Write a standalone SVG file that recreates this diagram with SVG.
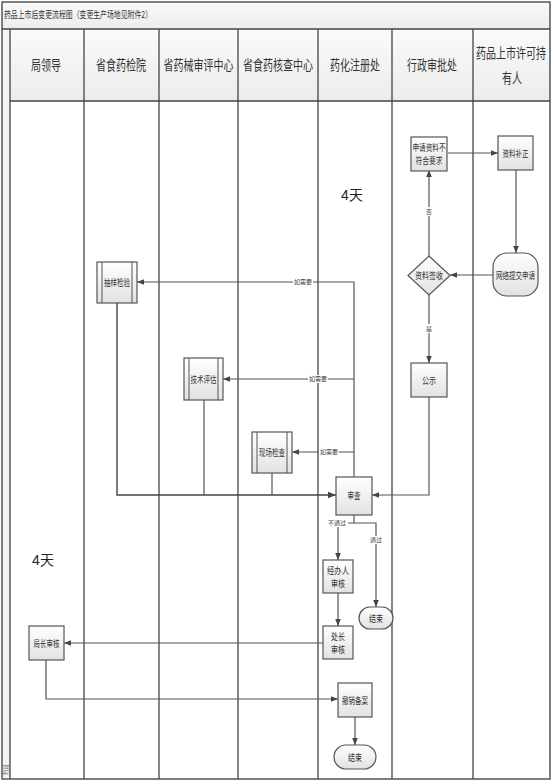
<svg xmlns="http://www.w3.org/2000/svg" width="554" height="784" viewBox="0 0 554 784">
<defs>
<linearGradient id="ng" x1="0" y1="0" x2="0" y2="1"><stop offset="0" stop-color="#ffffff"/><stop offset="1" stop-color="#e2e2e2"/></linearGradient>
<linearGradient id="hg" x1="0" y1="0" x2="0" y2="1"><stop offset="0" stop-color="#fafafa"/><stop offset="1" stop-color="#ececec"/></linearGradient>
<marker id="ah" viewBox="0 0 10 10" refX="10" refY="5" markerWidth="6" markerHeight="6" orient="auto"><path d="M0,1 L10,5 L0,9 z" fill="#444"/></marker>
</defs>
<style>
.frame{fill:none;stroke:#555;stroke-width:1.5}
.lane{stroke:#444;stroke-width:1.3}
.hd{font-family:"Noto Sans CJK SC",sans-serif;font-size:10px;fill:#333;text-anchor:middle}
.nd{fill:url(#ng);stroke:#555;stroke-width:1.2}
.nt{font-family:"Noto Sans CJK SC",sans-serif;font-size:9.5px;fill:#333;text-anchor:middle}
.lb{font-family:"Noto Sans CJK SC",sans-serif;font-size:6px;fill:#444;text-anchor:middle}
.cn{fill:none;stroke:#555;stroke-width:1.2}
.day{font-family:"Liberation Sans","Noto Sans CJK SC",sans-serif;font-size:14px;fill:#222;text-anchor:middle}
</style>
<rect x="0" y="0" width="554" height="784" fill="#ffffff"/>
<g id="pool">
<rect x="2" y="2" width="548" height="27" fill="url(#hg)"/>
<rect x="10" y="29" width="540" height="72" fill="url(#hg)"/>
<rect x="2" y="29" width="8" height="750" fill="#f4f4f4"/>
<rect x="2" y="2" width="548" height="777" class="frame"/>
<line x1="2" y1="29" x2="550" y2="29" class="lane"/>
<line x1="10" y1="101" x2="550" y2="101" class="lane"/>
<line x1="10" y1="29" x2="10" y2="779" class="lane"/>
<line x1="84" y1="29" x2="84" y2="779" class="lane"/>
<line x1="159" y1="29" x2="159" y2="779" class="lane"/>
<line x1="238" y1="29" x2="238" y2="779" class="lane"/>
<line x1="318" y1="29" x2="318" y2="779" class="lane"/>
<line x1="392" y1="29" x2="392" y2="779" class="lane"/>
<line x1="473" y1="29" x2="473" y2="779" class="lane"/>
<text x="4" y="18" font-family="Noto Sans CJK SC,sans-serif" font-size="9.5" fill="#333" textLength="148" lengthAdjust="spacingAndGlyphs">药品上市后变更流程图（变更生产场地见附件2）</text>
<text class="hd" transform="translate(46,70) scale(1,1.4)">局领导</text>
<text class="hd" transform="translate(121,70) scale(1,1.4)">省食药检院</text>
<text class="hd" transform="translate(198.5,70) scale(1,1.4)">省药械审评中心</text>
<text class="hd" transform="translate(278,70) scale(1,1.4)">省食药核查中心</text>
<text class="hd" transform="translate(355,70) scale(1,1.4)">药化注册处</text>
<text class="hd" transform="translate(432,70) scale(1,1.4)">行政审批处</text>
<text class="hd" transform="translate(511,58) scale(1,1.4)">药品上市许可持</text>
<text class="hd" transform="translate(512,83) scale(1,1.4)">有人</text>
<text transform="translate(8,775) rotate(-90)" font-family="Noto Sans CJK SC,sans-serif" font-size="5.5" fill="#555">阶段</text>
<text class="day" x="352" y="200">4天</text>
<text class="day" x="43" y="565">4天</text>
</g>
<g id="connectors">
<path class="cn" d="M448,153 L498,153" marker-end="url(#ah)"/>
<path class="cn" d="M516,170 L516,253" marker-end="url(#ah)"/>
<path class="cn" d="M493,275 L450,275" marker-end="url(#ah)"/>
<path class="cn" d="M429,256 L429,170" marker-end="url(#ah)"/>
<rect x="425" y="207" width="8" height="9" fill="#fff"/>
<text class="lb" x="429" y="214">否</text>
<path class="cn" d="M429,295 L429,363" marker-end="url(#ah)"/>
<rect x="425" y="324" width="8" height="9" fill="#fff"/>
<text class="lb" x="429" y="331">是</text>
<path class="cn" d="M429,397 L429,495 L372,495" marker-end="url(#ah)"/>
<path class="cn" d="M354,477 L354,282 L137,282" marker-end="url(#ah)"/>
<rect x="293" y="278" width="20" height="8" fill="#fff"/>
<text class="lb" x="303" y="284">如需要</text>
<path class="cn" d="M354,379 L223,379" marker-end="url(#ah)"/>
<rect x="308" y="375" width="20" height="8" fill="#fff"/>
<text class="lb" x="318" y="381">如需要</text>
<path class="cn" d="M354,452 L292,452" marker-end="url(#ah)"/>
<rect x="319" y="448" width="20" height="8" fill="#fff"/>
<text class="lb" x="329" y="454">如需要</text>
<path class="cn" d="M117,303 L117,495 L336,495" marker-end="url(#ah)" style="stroke:#444;stroke-width:1.4"/>
<path class="cn" d="M204,400 L204,495"/>
<path class="cn" d="M272,473 L272,495"/>
<path class="cn" d="M354,515 L354,523 L338,523 L338,560" marker-end="url(#ah)"/>
<path class="cn" d="M354,523 L376,523 L376,607" marker-end="url(#ah)"/>
<rect x="328" y="519" width="20" height="8" fill="#fff"/>
<text class="lb" x="337" y="525">不通过</text>
<rect x="370" y="536" width="12" height="8" fill="#fff"/>
<text class="lb" x="376" y="542">通过</text>
<path class="cn" d="M338,593 L338,626" marker-end="url(#ah)"/>
<path class="cn" d="M323,643 L64,643" marker-end="url(#ah)"/>
<path class="cn" d="M46,660 L46,699 L338,699" marker-end="url(#ah)"/>
<path class="cn" d="M355,717 L355,745" marker-end="url(#ah)"/>
</g>
<g id="n-buhege">
<rect class="nd" x="411" y="137" width="36" height="34"/>
<text class="nt" x="429" y="151" textLength="33" lengthAdjust="spacingAndGlyphs">申请资料不</text>
<text class="nt" x="429" y="164" textLength="27" lengthAdjust="spacingAndGlyphs">符合要求</text>
</g>
<g id="n-buzheng">
<rect class="nd" x="498" y="136" width="35" height="34"/>
<text class="nt" x="515.5" y="156.5" textLength="26" lengthAdjust="spacingAndGlyphs">资料补正</text>
</g>
<g id="n-tijiao">
<rect class="nd" x="493" y="253" width="45" height="43" rx="14" ry="14"/>
<text class="nt" x="515.5" y="278.5" textLength="39" lengthAdjust="spacingAndGlyphs">网络提交申请</text>
</g>
<g id="n-qianshou">
<polygon class="nd" points="429,256 450,275.5 429,295 408,275.5"/>
<text class="nt" x="429" y="279" textLength="28" lengthAdjust="spacingAndGlyphs">资料签收</text>
</g>
<g id="n-gongshi">
<rect class="nd" x="411" y="363" width="36" height="34"/>
<text class="nt" x="429" y="383.5" textLength="14" lengthAdjust="spacingAndGlyphs">公示</text>
</g>
<g id="n-chouyang">
<rect class="nd" x="97" y="262" width="40" height="41"/>
<line x1="102" y1="262" x2="102" y2="303" stroke="#555" stroke-width="1"/>
<line x1="132" y1="262" x2="132" y2="303" stroke="#555" stroke-width="1"/>
<text class="nt" x="117" y="286" textLength="26" lengthAdjust="spacingAndGlyphs">抽样检验</text>
</g>
<g id="n-pinggu">
<rect class="nd" x="184" y="358" width="39" height="42"/>
<line x1="189" y1="358" x2="189" y2="400" stroke="#555" stroke-width="1"/>
<line x1="218" y1="358" x2="218" y2="400" stroke="#555" stroke-width="1"/>
<text class="nt" x="203.5" y="382.5" textLength="26" lengthAdjust="spacingAndGlyphs">技术评估</text>
</g>
<g id="n-xianchang">
<rect class="nd" x="252" y="432" width="40" height="41"/>
<line x1="257" y1="432" x2="257" y2="473" stroke="#555" stroke-width="1"/>
<line x1="287" y1="432" x2="287" y2="473" stroke="#555" stroke-width="1"/>
<text class="nt" x="272" y="456" textLength="26" lengthAdjust="spacingAndGlyphs">现场检查</text>
</g>
<g id="n-shencha">
<rect class="nd" x="336" y="477" width="36" height="38"/>
<text class="nt" x="354" y="499" textLength="13" lengthAdjust="spacingAndGlyphs">审查</text>
</g>
<g id="n-jingban">
<rect class="nd" x="323" y="560" width="30" height="33"/>
<text class="nt" x="338" y="574" textLength="22" lengthAdjust="spacingAndGlyphs">经办人</text>
<text class="nt" x="338" y="587" textLength="14" lengthAdjust="spacingAndGlyphs">审核</text>
</g>
<g id="n-jieshu1">
<rect class="nd" x="359" y="607" width="34" height="22" rx="11" ry="11"/>
<text class="nt" x="376" y="621.5" textLength="14" lengthAdjust="spacingAndGlyphs">结束</text>
</g>
<g id="n-chuzhang">
<rect class="nd" x="323" y="626" width="30" height="33"/>
<text class="nt" x="338" y="640" textLength="14" lengthAdjust="spacingAndGlyphs">处长</text>
<text class="nt" x="338" y="653" textLength="14" lengthAdjust="spacingAndGlyphs">审核</text>
</g>
<g id="n-juzhang">
<rect class="nd" x="29" y="626" width="35" height="34"/>
<text class="nt" x="46.5" y="646.5" textLength="26" lengthAdjust="spacingAndGlyphs">局长审核</text>
</g>
<g id="n-chexiao">
<rect class="nd" x="338" y="683" width="34" height="34"/>
<text class="nt" x="355" y="703.5" textLength="26" lengthAdjust="spacingAndGlyphs">撤销备案</text>
</g>
<g id="n-jieshu2">
<rect class="nd" x="334" y="745" width="42" height="24" rx="12" ry="12"/>
<text class="nt" x="355" y="760.5" textLength="14" lengthAdjust="spacingAndGlyphs">结束</text>
</g>
</svg>
